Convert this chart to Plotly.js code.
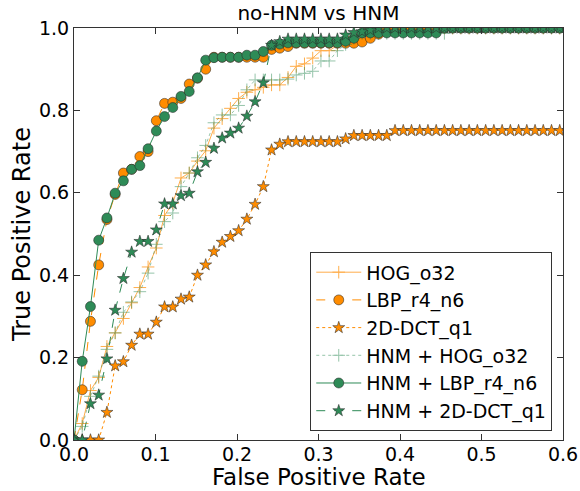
<!DOCTYPE html>
<html>
<head>
<meta charset="utf-8">
<script src="https://cdn.plot.ly/plotly-3.0.1.min.js"></script>
<style>html,body{margin:0;padding:0;background:#fff;}#chart{width:580px;height:491px;}</style>
</head>
<body>
<div id="chart"></div>
<script>
// False positive rate sampling points
const fpr = [0, 0.0101, 0.0202, 0.0303, 0.0404, 0.0505, 0.0606, 0.0707, 0.0808, 0.0909,
  0.1010, 0.1111, 0.1212, 0.1313, 0.1414, 0.1515, 0.1616, 0.1717, 0.1818, 0.1919,
  0.2020, 0.2121, 0.2222, 0.2323, 0.2424, 0.2525, 0.2626, 0.2727, 0.2828, 0.2929,
  0.3030, 0.3131, 0.3232, 0.3333, 0.3434, 0.3535, 0.3636, 0.3737, 0.3838, 0.3939,
  0.4040, 0.4141, 0.4242, 0.4343, 0.4444, 0.4545, 0.4646, 0.4747, 0.4848, 0.4949,
  0.5051, 0.5152, 0.5253, 0.5354, 0.5455, 0.5556, 0.5657, 0.5758, 0.5859, 0.5960, 0.6061];

const seriesNames = ["HOG_o32", "LBP_r4_n6", "2D-DCT_q1", "HNM + HOG_o32", "HNM + LBP_r4_n6", "HNM + 2D-DCT_q1"];

const tprHOG = [0, 0.04, 0.12, 0.152, 0.227, 0.26, 0.295, 0.333, 0.37, 0.42,
  0.466, 0.545, 0.575, 0.636, 0.648, 0.677, 0.702, 0.757, 0.78, 0.805,
  0.829, 0.844, 0.85, 0.856, 0.862, 0.862, 0.88, 0.907, 0.913, 0.927,
  0.945, 0.945, 0.959, 0.971, 0.979, 0.99, 1, 1, 1, 1,
  1, 1, 1, 1, 1, 1, 1, 1, 1, 1,
  1, 1, 1, 1, 1, 1, 1, 1, 1, 1, 1];

const tprLBP = [0, 0.122, 0.288, 0.425, 0.535, 0.596, 0.648, 0.657, 0.688, 0.70,
  0.775, 0.817, 0.82, 0.829, 0.864, 0.878, 0.90, 0.929, 0.929, 0.929,
  0.929, 0.929, 0.929, 0.929, 0.948, 0.951, 0.955, 0.963, 0.963, 0.963,
  0.963, 0.963, 0.963, 0.963, 0.963, 0.966, 0.975, 0.985, 1, 1,
  1, 1, 1, 1, 1, 1, 1, 1, 1, 1,
  1, 1, 1, 1, 1, 1, 1, 1, 1, 1, 1];

const tprDCT = [0, 0, 0, 0, 0.067, 0.18, 0.19, 0.23, 0.257, 0.257,
  0.286, 0.323, 0.323, 0.342, 0.347, 0.40, 0.425, 0.457, 0.48, 0.494,
  0.508, 0.536, 0.572, 0.615, 0.704, 0.718, 0.724, 0.724, 0.724, 0.724,
  0.724, 0.724, 0.724, 0.731, 0.739, 0.739, 0.739, 0.739, 0.739, 0.751,
  0.751, 0.751, 0.751, 0.751, 0.751, 0.751, 0.751, 0.751, 0.751, 0.751,
  0.751, 0.751, 0.751, 0.751, 0.751, 0.751, 0.751, 0.751, 0.751, 0.751, 0.751];

const tprHnmHOG = [0, 0.033, 0.106, 0.155, 0.22, 0.26, 0.31, 0.335, 0.36, 0.405,
  0.475, 0.53, 0.551, 0.615, 0.648, 0.685, 0.715, 0.77, 0.789, 0.789,
  0.812, 0.85, 0.874, 0.874, 0.874, 0.874, 0.876, 0.886, 0.89, 0.895,
  0.92, 0.92, 0.945, 0.96, 0.975, 0.987, 0.987, 0.987, 0.987, 0.987,
  0.987, 0.987, 0.987, 0.987, 0.987, 0.987, 1, 1, 1, 1,
  1, 1, 1, 1, 1, 1, 1, 1, 1, 1, 1];

const tprHnmLBP = [0, 0.191, 0.324, 0.485, 0.539, 0.599, 0.629, 0.657, 0.666, 0.707,
  0.750, 0.785, 0.807, 0.834, 0.846, 0.879, 0.922, 0.928, 0.929, 0.929,
  0.929, 0.934, 0.934, 0.943, 0.958, 0.961, 0.964, 0.964, 0.964, 0.964,
  0.964, 0.964, 0.964, 0.968, 0.975, 0.988, 0.988, 0.988, 0.988, 0.988,
  0.988, 0.988, 0.988, 0.988, 0.988, 1, 1, 1, 1, 1,
  1, 1, 1, 1, 1, 1, 1, 1, 1, 1, 1];

const tprHnmDCT = [0, 0, 0.088, 0.109, 0.197, 0.315, 0.392, 0.456, 0.482, 0.482,
  0.51, 0.573, 0.573, 0.593, 0.599, 0.651, 0.674, 0.708, 0.733, 0.745,
  0.757, 0.786, 0.821, 0.867, 0.958, 0.967, 0.973, 0.973, 0.973, 0.973,
  0.973, 0.973, 0.973, 0.983, 0.989, 0.991, 0.995, 1, 1, 1,
  1, 1, 1, 1, 1, 1, 1, 1, 1, 1,
  1, 1, 1, 1, 1, 1, 1, 1, 1, 1, 1];

const xTicks = [0.0, 0.1, 0.2, 0.3, 0.4, 0.5, 0.6];
const yTicks = [0.0, 0.2, 0.4, 0.6, 0.8, 1.0];

const ORANGE = "#ff8c00";
const GREEN = "#2e8b57";
const EDGE = "rgba(40,40,40,0.9)";

const traces = [
  {x: fpr, y: tprHOG, name: seriesNames[0], mode: "lines+markers", opacity: 0.7,
   line: {color: ORANGE, width: 1, dash: "solid"},
   marker: {symbol: "cross-thin", size: 9, color: ORANGE, line: {color: ORANGE, width: 1}}},
  {x: fpr, y: tprLBP, name: seriesNames[1], mode: "lines+markers",
   line: {color: ORANGE, width: 1, dash: "dash"},
   marker: {symbol: "circle", size: 10, color: ORANGE, line: {color: EDGE, width: 0.6}}},
  {x: fpr, y: tprDCT, name: seriesNames[2], mode: "lines+markers",
   line: {color: ORANGE, width: 1, dash: "dot"},
   marker: {symbol: "star", size: 9, color: ORANGE, line: {color: EDGE, width: 0.6}}},
  {x: fpr, y: tprHnmHOG, name: seriesNames[3], mode: "lines+markers", opacity: 0.5,
   line: {color: GREEN, width: 1, dash: "dot"},
   marker: {symbol: "cross-thin", size: 9, color: GREEN, line: {color: GREEN, width: 1}}},
  {x: fpr, y: tprHnmLBP, name: seriesNames[4], mode: "lines+markers",
   line: {color: GREEN, width: 1, dash: "solid"},
   marker: {symbol: "circle", size: 10, color: GREEN, line: {color: EDGE, width: 0.6}}},
  {x: fpr, y: tprHnmDCT, name: seriesNames[5], mode: "lines+markers",
   line: {color: GREEN, width: 1, dash: "dash"},
   marker: {symbol: "star", size: 9, color: GREEN, line: {color: EDGE, width: 0.6}}}
];

const axisCommon = {
  showgrid: false, zeroline: false, showline: true, linecolor: "#333", linewidth: 1,
  mirror: "ticks", ticks: "inside", ticklen: 6, tickcolor: "#333", tickwidth: 1,
  tickfont: {family: "DejaVu Sans", size: 19, color: "#000"}
};

const layout = {
  width: 580, height: 491,
  margin: {l: 74, r: 17, t: 28, b: 51},
  paper_bgcolor: "#fff", plot_bgcolor: "#fff",
  font: {family: "DejaVu Sans", color: "#000"},
  title: {text: "no-HNM vs HNM", font: {family: "DejaVu Sans", size: 20, color: "#000"},
          x: 0.549, xanchor: "center", y: 0.973, yanchor: "middle"},
  xaxis: Object.assign({}, axisCommon, {
    range: [0, 0.6], tickvals: xTicks, ticktext: xTicks.map(v => v.toFixed(1)),
    ticklabelstandoff: -3
  }),
  yaxis: Object.assign({}, axisCommon, {
    range: [0, 1.0], tickvals: yTicks, ticktext: yTicks.map(v => v.toFixed(1)),
    title: {text: "True Positive Rate", font: {family: "DejaVu Sans", size: 24, color: "#000"}, standoff: 1}
  }),
  annotations: [{
    text: "False Positive Rate", xref: "paper", yref: "paper", x: 0.5, y: 0,
    xanchor: "center", yanchor: "middle", yshift: -37, showarrow: false,
    font: {family: "DejaVu Sans", size: 23, color: "#000"}
  }],
  showlegend: true,
  legend: {
    x: 0.978, xanchor: "right", y: 0.021, yanchor: "bottom",
    bgcolor: "#fff", bordercolor: "#333", borderwidth: 1,
    font: {family: "DejaVu Sans", size: 19, color: "#000"},
    itemwidth: 45, tracegroupgap: 0
  }
};

Plotly.newPlot("chart", traces, layout, {staticPlot: true, displayModeBar: false});
</script>
</body>
</html>
